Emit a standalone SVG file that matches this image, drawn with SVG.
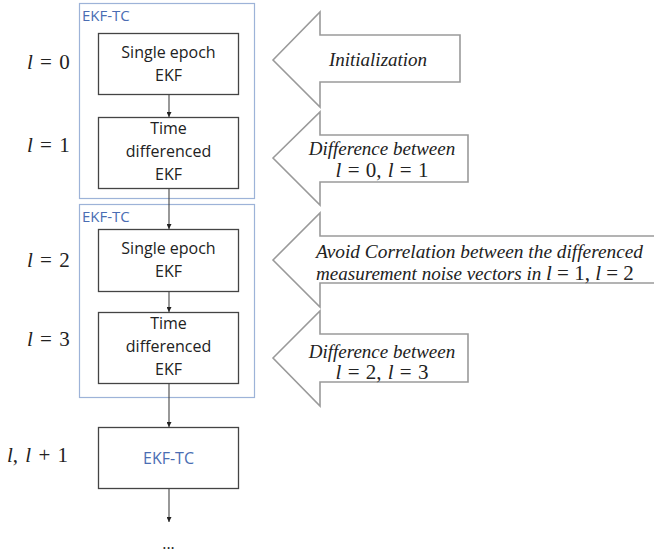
<svg xmlns="http://www.w3.org/2000/svg" width="654" height="554" viewBox="0 0 654 554">
<defs>
<style>
.bg{fill:#ffffff}
.cont{fill:none;stroke:#9db3d8;stroke-width:1.2}
.ctl{font-family:"Open Sans","Noto Sans",sans-serif;font-size:15px;fill:#4a6db3}
.box{fill:#ffffff;stroke:#444444;stroke-width:1.3}
.bt{font-family:"Open Sans","Noto Sans",sans-serif;font-size:16px;fill:#222222;text-anchor:middle}
.bb{font-family:"Open Sans","Noto Sans",sans-serif;font-size:16px;fill:#4a6db3;text-anchor:middle}
.math{font-family:"Liberation Serif","DejaVu Serif",serif;font-size:21px;fill:#222222;word-spacing:2px}
.it{font-style:italic}
.blk{fill:#ffffff;stroke:#9a9a9a;stroke-width:1.6;stroke-linejoin:miter}
.at{font-family:"Liberation Serif","DejaVu Serif",serif;font-size:19px;font-style:italic;fill:#222222;text-anchor:middle}
.atl{font-family:"Liberation Serif","DejaVu Serif",serif;font-size:19px;font-style:italic;fill:#222222;text-anchor:start}
.am{font-family:"Liberation Serif","DejaVu Serif",serif;font-size:21px;fill:#222222;text-anchor:middle;word-spacing:1px}
.con{fill:none;stroke:#444444;stroke-width:1.1}
</style>
<marker id="ah" viewBox="0 0 10 10" refX="10" refY="5" markerWidth="5" markerHeight="5" orient="auto" markerUnits="userSpaceOnUse">
<path d="M0,0 L10,5 L0,10 z" fill="#222222"/>
</marker>
</defs>
<rect class="bg" x="0" y="0" width="654" height="554"/>

<g id="labels-left">
<text class="math" x="27" y="69"><tspan class="it">l</tspan> = 0</text>
<text class="math" x="27" y="152"><tspan class="it">l</tspan> = 1</text>
<text class="math" x="27" y="267"><tspan class="it">l</tspan> = 2</text>
<text class="math" x="27" y="346"><tspan class="it">l</tspan> = 3</text>
<text class="math" x="7" y="462"><tspan class="it">l</tspan>, <tspan class="it">l</tspan> + 1</text>
</g>

<g id="container1">
<rect class="cont" x="79.5" y="3.5" width="175" height="195"/>
<text class="ctl" x="82" y="21">EKF-TC</text>
</g>
<g id="container2">
<rect class="cont" x="79.5" y="204.5" width="175" height="193"/>
<text class="ctl" x="82" y="222">EKF-TC</text>
</g>

<g id="connectors">
<line class="con" x1="169" y1="94" x2="169" y2="117" marker-end="url(#ah)"/>
<line class="con" x1="169" y1="188" x2="169" y2="229" marker-end="url(#ah)"/>
<line class="con" x1="169" y1="292" x2="169" y2="312" marker-end="url(#ah)"/>
<line class="con" x1="169" y1="383" x2="169" y2="427" marker-end="url(#ah)"/>
<line class="con" x1="169" y1="488" x2="169" y2="522" marker-end="url(#ah)"/>
</g>

<g id="node1">
<rect class="box" x="98.5" y="33.5" width="140" height="61"/>
<text class="bt" x="168.5" y="58">Single epoch</text>
<text class="bt" x="168.5" y="81">EKF</text>
</g>
<g id="node2">
<rect class="box" x="98.5" y="117.5" width="140" height="71"/>
<text class="bt" x="168.5" y="134">Time</text>
<text class="bt" x="168.5" y="157">differenced</text>
<text class="bt" x="168.5" y="180">EKF</text>
</g>
<g id="node3">
<rect class="box" x="98.5" y="229.5" width="140" height="62"/>
<text class="bt" x="168.5" y="254">Single epoch</text>
<text class="bt" x="168.5" y="277">EKF</text>
</g>
<g id="node4">
<rect class="box" x="98.5" y="312.5" width="140" height="71"/>
<text class="bt" x="168.5" y="329">Time</text>
<text class="bt" x="168.5" y="352">differenced</text>
<text class="bt" x="168.5" y="375">EKF</text>
</g>
<g id="node5">
<rect class="box" x="98.5" y="427.5" width="140" height="61"/>
<text class="bb" x="168.5" y="464">EKF-TC</text>
</g>
<g id="ellipsis">
<text class="bt" x="168.5" y="549">...</text>
</g>

<g id="arrow1">
<path class="blk" d="M273,60 L320,12 L320,35 L460,35 L460,82 L320,82 L320,107 Z"/>
<text class="at" x="378" y="66">Initialization</text>
</g>
<g id="arrow2">
<path class="blk" d="M273,158 L320,112 L320,135 L468,135 L468,182 L320,182 L320,205 Z"/>
<text class="at" x="382" y="155">Difference between</text>
<text class="am" x="382" y="177"><tspan class="it">l</tspan> = 0, <tspan class="it">l</tspan> = 1</text>
</g>
<g id="arrow3">
<path class="blk" d="M273,260 L320,213 L320,236 L660,236 L660,283 L320,283 L320,307 Z"/>
<text class="atl" x="316" y="258" textLength="327" lengthAdjust="spacingAndGlyphs">Avoid Correlation between the differenced</text>
<text class="atl" x="316" y="280"><tspan textLength="230" lengthAdjust="spacingAndGlyphs">measurement noise vectors in </tspan><tspan font-style="normal" font-size="21px"><tspan class="it">l</tspan> = 1, <tspan class="it">l</tspan> = 2</tspan></text>
</g>
<g id="arrow4">
<path class="blk" d="M273,358 L320,311 L320,334 L468,334 L468,382 L320,382 L320,406 Z"/>
<text class="at" x="382" y="358">Difference between</text>
<text class="am" x="382" y="379"><tspan class="it">l</tspan> = 2, <tspan class="it">l</tspan> = 3</text>
</g>
</svg>
